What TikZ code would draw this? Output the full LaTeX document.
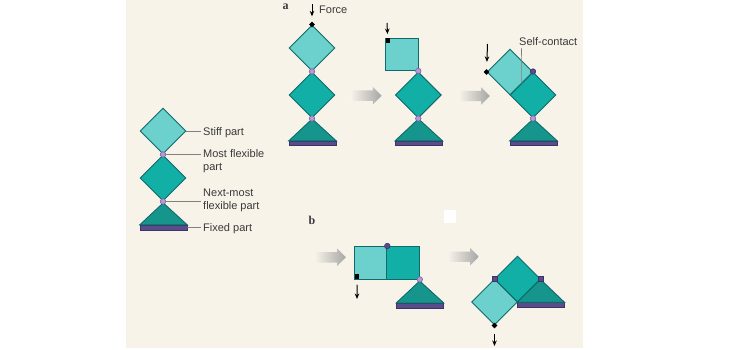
\documentclass[tikz,border=0pt]{standalone}
\usepackage{fontspec}
\setmainfont{Liberation Sans}
\newfontfamily\panelfont{Liberation Serif}
\usetikzlibrary{shapes.geometric,shapes.arrows,arrows.meta}

\definecolor{paper}{HTML}{F8F3E9}
\definecolor{stiffcol}{HTML}{6CD0CC}
\definecolor{flexcol}{HTML}{12AFA6}
\definecolor{basecol}{HTML}{15958C}
\definecolor{edgecol}{HTML}{0E6B6B}
\definecolor{barcol}{HTML}{5A4C8A}
\definecolor{baredge}{HTML}{3C3366}
\definecolor{pincol}{HTML}{B89AD0}
\definecolor{pinedge}{HTML}{7A62A6}
\definecolor{inkcol}{HTML}{3A3A3A}

\begin{document}
\begin{tikzpicture}[
    x=1pt, y=-1pt,
    part/.style={draw=edgecol, line width=0.9pt, inner sep=0pt},
    stiff/.style={part, diamond, aspect=1, fill=stiffcol, minimum size=46pt},
    flex/.style={part, diamond, aspect=1, fill=flexcol, minimum size=46pt},
    stiffsq/.style={part, rectangle, fill=stiffcol, minimum size=32.5pt},
    flexsq/.style={part, rectangle, fill=flexcol, minimum size=32.5pt},
    basetri/.style={draw=edgecol, line width=0.9pt, fill=basecol},
    bar/.style={rectangle, draw=baredge, fill=barcol, line width=0.6pt, inner sep=0pt,
                minimum width=47pt, minimum height=4.6pt},
    pin/.style={circle, draw=pinedge, fill=pincol, line width=0.6pt, inner sep=0pt, minimum size=5.5pt},
    darkpin/.style={pin, draw=baredge, fill=barcol},
    darkpinsq/.style={darkpin, rectangle, minimum size=5pt},
    tipdot/.style={diamond, aspect=1, fill=black, inner sep=0pt, minimum size=6pt},
    tipsq/.style={rectangle, fill=black, inner sep=0pt, minimum size=4.5pt},
    force/.style={-{Stealth[length=5.5pt,width=4.5pt]}, line width=1pt},
    movearrow/.style={single arrow, minimum height=31pt, inner xsep=0pt, inner ysep=5pt,
                      single arrow head extend=3.5pt, single arrow head indent=0pt,
                      left color=paper, right color=black!35},
    lbl/.style={font=\fontsize{11}{13}\selectfont, text=inkcol, align=left,
                inner xsep=2.5pt, inner ysep=0pt},
    leader/.style={draw=black!50, line width=0.6pt},
    panel/.style={font=\panelfont\fontsize{12}{14}\selectfont\bfseries, text=inkcol, inner sep=0pt},
]
\useasboundingbox (0,0) rectangle (750,350);
\fill[white] (0,0) rectangle (750,350);
\fill[paper] (126,0) rectangle (583,348);

% Legend (left).
\node[stiff] (stL) at (163,131) {};
\node[flex]  (flL) at (163,178) {};
\node[bar]   (barL) at (163.5,227.5) {};
\draw[basetri] (barL.north west) -- ++(23.5,-22) -- (barL.north east) -- cycle;
\node[pin] (pinL1) at (163,154.5) {};
\node[pin] (pinL2) at (163,201.5) {};

\node[lbl, anchor=base west]  (lblStiff) at (200.5,136)   {Stiff part};
\node[lbl, anchor=north west] (lblMost)  at (200.5,149.5) {Most flexible\\part};
\node[lbl, anchor=north west] (lblNext)  at (200.5,189)   {Next-most\\flexible part};
\node[lbl, anchor=base west]  (lblFixed) at (200.5,231.5) {Fixed part};
\draw[leader] (stL.east) -- (stL.east -| lblStiff.west);
\draw[leader] (pinL1.east) -- (pinL1.east -| lblMost.west);
\draw[leader] (pinL2.east) -- (pinL2.east -| lblNext.west);
\draw[leader] (barL.east) -- (barL.east -| lblFixed.west);

% Panel a: upright, stiff part tips over, self-contact.
\node[panel, anchor=base] (pa) at (285.5,9.5) {a};

\node[stiff] (stA1) at (312,48) {};
\node[flex]  (flA1) at (312,95) {};
\node[bar]   (barA1) at (312.5,143.5) {};
\draw[basetri] (barA1.north west) -- ++(23.5,-22) -- (barA1.north east) -- cycle;
\node[pin] (pinA1a) at (312,71.5) {};
\node[pin] (pinA1b) at (312,118.5) {};
\node[tipdot] (dotA1) at (stA1.north) {};
\coordinate (fA1) at (312,4);
\draw[force, shorten >=5pt] (fA1) -- (dotA1);
\node[lbl, anchor=base west] (lblForce) at (316.5,13.5) {Force};

\node[movearrow] (mvA1) at (363.5,95.7) {};

\node[stiffsq] (stA2) at (401.8,54.3) {};
\node[flex]    (flA2) at (418.3,95) {};
\node[bar]     (barA2) at (418.8,143.5) {};
\draw[basetri] (barA2.north west) -- ++(23.5,-22) -- (barA2.north east) -- cycle;
\node[pin] (pinA2a) at (418.3,71) {};
\node[pin] (pinA2b) at (418.3,118.5) {};
\node[tipsq] (dotA2) at (387.8,40.5) {};
\coordinate (fA2) at (387,23);
\draw[force, shorten >=4pt] (fA2) -- (dotA2);

\node[movearrow] (mvA2) at (471.7,96) {};

\node[flex]  (flA3) at (533,95) {};
\node[stiff] (stA3) at (510,72) {};
\node[bar]   (barA3) at (533.5,143.5) {};
\draw[basetri] (barA3.north west) -- ++(23.5,-22) -- (barA3.north east) -- cycle;
\node[darkpin] (pinA3a) at (533,71.5) {};
\node[pin]     (pinA3b) at (533,118.5) {};
\node[tipdot] (dotA3) at (stA3.west) {};
\coordinate (fA3) at (487.5,44);
\draw[force, shorten >=7pt] (fA3) -- (dotA3);
\node[lbl, anchor=base west] (lblSelf) at (516.5,45.5) {Self-contact};
\draw[leader] (lblSelf.south west) ++(5,2.5) -- (stA3.south east);

% Panel b: lying flat, stiff part swings down.
\node[panel, anchor=base] (pb) at (312,224) {b};
\fill[white] (444,209.5) rectangle (456,222.5);

\node[movearrow] (mvB1) at (327.7,257.3) {};

\node[stiffsq] (stB1) at (370.6,262.7) {};
\node[flexsq]  (flB1) at (403.1,262.7) {};
\node[bar]     (barB1) at (420,305.6) {};
\draw[basetri] (barB1.north west) -- ++(23.5,-22) -- (barB1.north east) -- cycle;
\node[darkpin] (pinB1a) at (stB1.north east) {};
\node[pin]     (pinB1b) at (flB1.south east) {};
\node[tipsq] (dotB1) at (357.2,276.3) {};
\coordinate (fB1) at (357,299);
\draw[force, shorten <=6pt] (dotB1) -- (fB1);

\node[movearrow] (mvB2) at (460.8,256.7) {};

\node[flex]  (flB2) at (517.5,279) {};
\node[stiff] (stB2) at (494.5,302) {};
\node[bar]   (barB2) at (540.8,305) {};
\draw[basetri] (barB2.north west) -- ++(23.5,-23) -- (barB2.north east) -- cycle;
\node[darkpinsq] (pinB2a) at (495,278.5) {};
\node[darkpinsq] (pinB2b) at (540.5,278.5) {};
\node[tipdot] (dotB2) at (stB2.south) {};
\coordinate (fB2) at (494.5,346);
\draw[force, shorten <=5pt] (dotB2) -- (fB2);
\end{tikzpicture}
\end{document}
